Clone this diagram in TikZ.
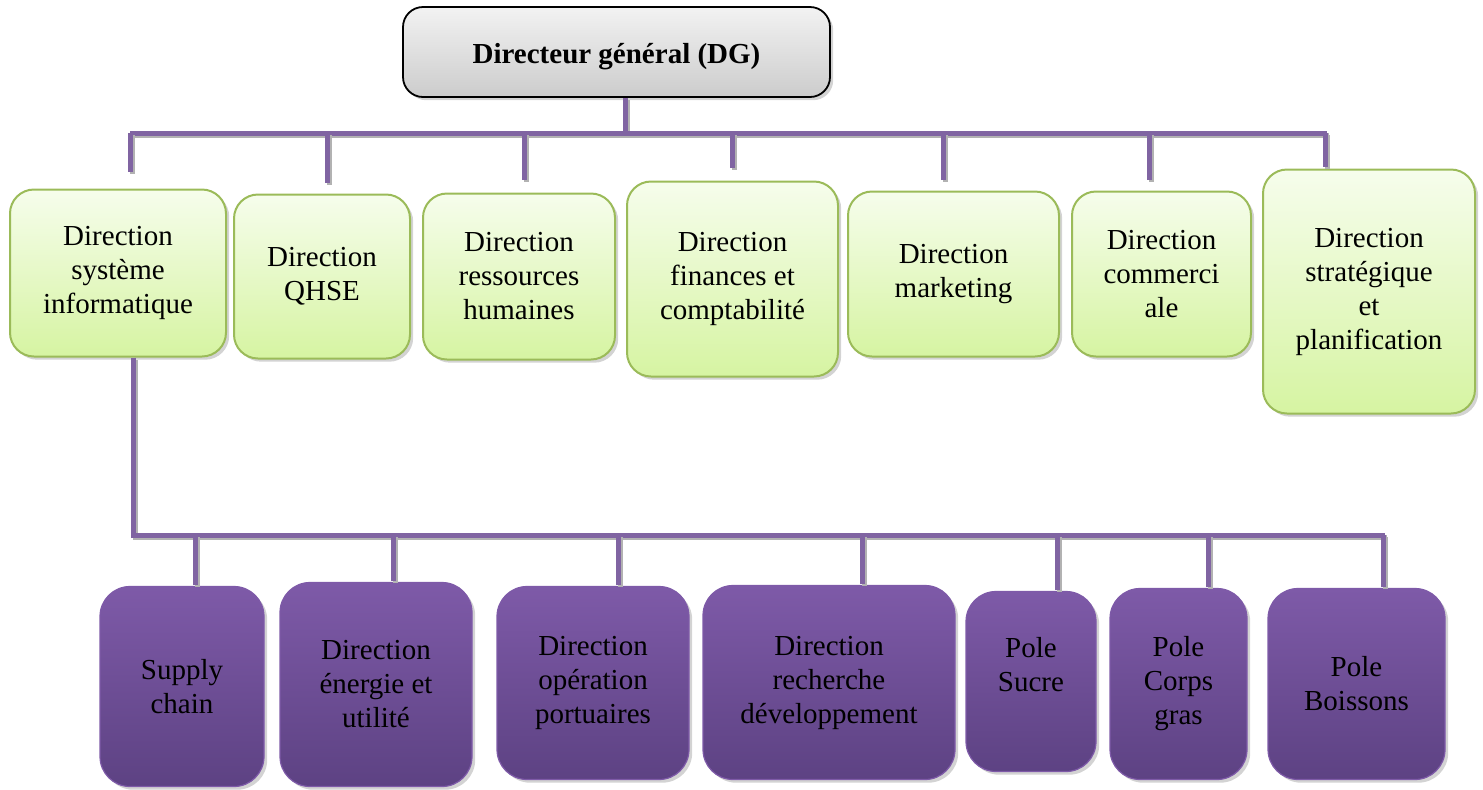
\documentclass[tikz,border=0pt]{standalone}
\usepackage{fontspec}
\setmainfont{Liberation Serif}
\usetikzlibrary{shadows}
\definecolor{linkpurple}{HTML}{8064A2}
\definecolor{purpletop}{HTML}{7E5AA8}
\definecolor{purplebot}{HTML}{5D4283}
\definecolor{greenline}{HTML}{9BBB59}
\definecolor{greentop}{HTML}{F6FDEC}
\definecolor{greenbot}{HTML}{D6F4A2}
\begin{document}
\begin{tikzpicture}[x=0.5pt, y=-0.5pt, every node/.style={font=\fontsize{14.5}{17}\selectfont},
  shadowed/.style={drop shadow={shadow xshift=1.6pt, shadow yshift=-1.6pt, opacity=0.35}},
  dgbox/.style={draw=black, line width=0.9pt, rounded corners=10pt, top color=white!95!black, bottom color=black!20, shadowed, align=center, inner sep=0pt},
  gbox/.style={draw=greenline, line width=1pt, rounded corners=12pt, top color=greentop, bottom color=greenbot, shadowed, align=center, inner sep=0pt},
  pbox/.style={draw=purpletop, line width=0.6pt, rounded corners=15pt, top color=purpletop, bottom color=purplebot, shadowed, align=center, inner sep=0pt},
  link/.style={draw=linkpurple, line width=2.5pt, preaction={draw=black!30, line width=2.5pt, transform canvas={xshift=1pt, yshift=-1pt}}}]
\useasboundingbox (0,0) rectangle (1483,789);
\node[dgbox, minimum width=213.5pt, minimum height=45pt, text height=15pt, text depth=3.5pt] (dg) at (616.5,52) {\textbf{Directeur général (DG)}};
\node[gbox, minimum width=108pt, minimum height=83.5pt] (g1) at (118,273) {Direction\\système\\informatique};
\node[gbox, minimum width=88pt, minimum height=82pt] (g2) at (322,276.5) {Direction\\QHSE};
\node[gbox, minimum width=96pt, minimum height=83pt] (g3) at (519,276.5) {Direction\\ressources\\humaines};
\node[gbox, minimum width=105.5pt, minimum height=97.5pt] (g4) at (732.5,279) {Direction\\finances et\\comptabilité};
\node[gbox, minimum width=105.5pt, minimum height=82.5pt] (g5) at (953.5,274) {Direction\\marketing};
\node[gbox, minimum width=89.5pt, minimum height=82.5pt] (g6) at (1161.5,274) {Direction\\commerci\\ale};
\node[gbox, minimum width=106pt, minimum height=122pt] (g7) at (1369,291.5) {Direction\\stratégique\\et\\planification};
\node[pbox, minimum width=82pt, minimum height=100pt] (p1) at (182,686.5) {Supply\\chain};
\node[pbox, minimum width=96pt, minimum height=102pt] (p2) at (376,684.5) {Direction\\énergie et\\utilité};
\node[pbox, minimum width=96pt, minimum height=96.5pt] (p3) at (593,683) {Direction\\opération\\portuaires};
\node[pbox, minimum width=126pt, minimum height=97pt] (p4) at (829,682.5) {Direction\\recherche\\développement};
\node[pbox, minimum width=65pt, minimum height=90pt] (p5) at (1031,681.5) {Pole\\Sucre\\\mbox{}};
\node[pbox, minimum width=68.5pt, minimum height=95.5pt] (p6) at (1178.5,684) {Pole\\Corps\\gras};
\node[pbox, minimum width=88.5pt, minimum height=95.5pt] (p7) at (1356.5,684) {Pole\\Boissons};
\coordinate (busL) at (130,133);
\coordinate (busR) at (1327,133);
\coordinate (t1) at (130,172);
\coordinate (t2) at (327,183);
\coordinate (t3) at (524,180);
\coordinate (t4) at (732,168);
\coordinate (t5) at (943,180);
\coordinate (t6) at (1149,180);
\coordinate (t7) at (1325,167);
\coordinate (sbL) at (133,535);
\coordinate (sbR) at (1385,535);
\coordinate (b1) at (195,585);
\coordinate (b2) at (393,581);
\coordinate (b3) at (618,585);
\coordinate (b4) at (862,584);
\coordinate (b5) at (1057,590);
\coordinate (b6) at (1208,587);
\coordinate (b7) at (1383,587);
\draw[link] (dg.south -| 625,0) -- (busL -| 625,0);
\draw[link] (busL) -- (busR);
\foreach \i in {1,...,7}
  \draw[link] (busL -| t\i) -- (t\i);
\draw[link] (g1.south -| sbL) -- (sbL) -- (sbR);
\foreach \i in {1,...,7}
  \draw[link] (sbL -| b\i) -- (b\i);
\end{tikzpicture}
\end{document}
